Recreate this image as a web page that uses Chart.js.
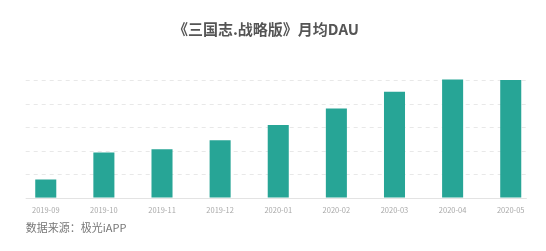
<!DOCTYPE html>
<html>
<head>
<meta charset="utf-8">
<script src="https://cdn.jsdelivr.net/npm/chart.js@4"></script>
<style>
  html, body { margin: 0; padding: 0; background: #ffffff; }
  #wrap { width: 546px; height: 251px; position: relative; }
</style>
</head>
<body>
<div id="wrap"><canvas id="c"></canvas></div>
<script>
// Monthly average DAU (scale units; y axis not labelled)
const months = ['2019-09', '2019-10', '2019-11', '2019-12', '2020-01', '2020-02', '2020-03', '2020-04', '2020-05'];
const dauValues = [0.77, 1.92, 2.06, 2.44, 3.09, 3.79, 4.50, 5.02, 5.00];
const yTicks = [0, 1, 2, 3, 4, 5];
const titleText = '《三国志.战略版》月均DAU';
const sourceText = '数据来源：极光iAPP';

const FONT = '"Noto Sans CJK SC", "Noto Sans", sans-serif';

// Dashed horizontal guides + solid baseline, slightly inset from the category band;
// heading and source note drawn around the plot
const guidePlugin = {
  id: 'guides',
  beforeDatasetsDraw(chart) {
    const { ctx, chartArea } = chart;
    const y = chart.scales.y;
    const x0 = chartArea.left + 9;
    const x1 = chartArea.right - 13;
    ctx.save();
    yTicks.forEach(v => {
      const py = Math.round(y.getPixelForValue(v)) + 0.5;
      ctx.beginPath();
      if (v === 0) {
        ctx.setLineDash([]);
        ctx.strokeStyle = '#e3e3e3';
      } else {
        ctx.setLineDash([4, 4]);
        ctx.strokeStyle = '#e8e8e8';
      }
      ctx.lineWidth = 1;
      ctx.moveTo(x0, py);
      ctx.lineTo(x1, py);
      ctx.stroke();
    });
    ctx.restore();
  },
  afterDraw(chart) {
    const { ctx, chartArea } = chart;
    ctx.save();
    ctx.textBaseline = 'middle';
    ctx.textAlign = 'center';
    ctx.font = 'bold 15px ' + FONT;
    ctx.fillStyle = '#555555';
    ctx.fillText(titleText, chart.width / 2 - 7, 29);
    ctx.textAlign = 'left';
    ctx.font = '11px ' + FONT;
    ctx.fillStyle = '#777777';
    ctx.fillText(sourceText, chartArea.left + 9, 228);
    ctx.restore();
  }
};

new Chart(document.getElementById('c'), {
  type: 'bar',
  data: {
    labels: months,
    datasets: [{
      data: dauValues,
      backgroundColor: '#27a596',
      borderWidth: 0,
      categoryPercentage: 1,
      barPercentage: 0.362,
      clip: false
    }]
  },
  options: {
    responsive: true,
    maintainAspectRatio: false,
    animation: false,
    layout: { padding: { left: 16.7, right: 6.2, top: 80, bottom: 28.4 } },
    plugins: {
      legend: { display: false },
      tooltip: { enabled: false },
      title: { display: false }
    },
    scales: {
      x: {
        grid: { display: false, drawTicks: false },
        border: { display: false },
        ticks: {
          color: '#a8a8a8',
          font: { family: FONT, size: 7.5 },
          padding: 8,
          maxRotation: 0,
          autoSkip: false
        }
      },
      y: {
        display: false,
        min: 0,
        max: 5,
        afterBuildTicks(scale) { scale.ticks = yTicks.map(v => ({ value: v })); }
      }
    }
  },
  plugins: [guidePlugin]
});
</script>
</body>
</html>
